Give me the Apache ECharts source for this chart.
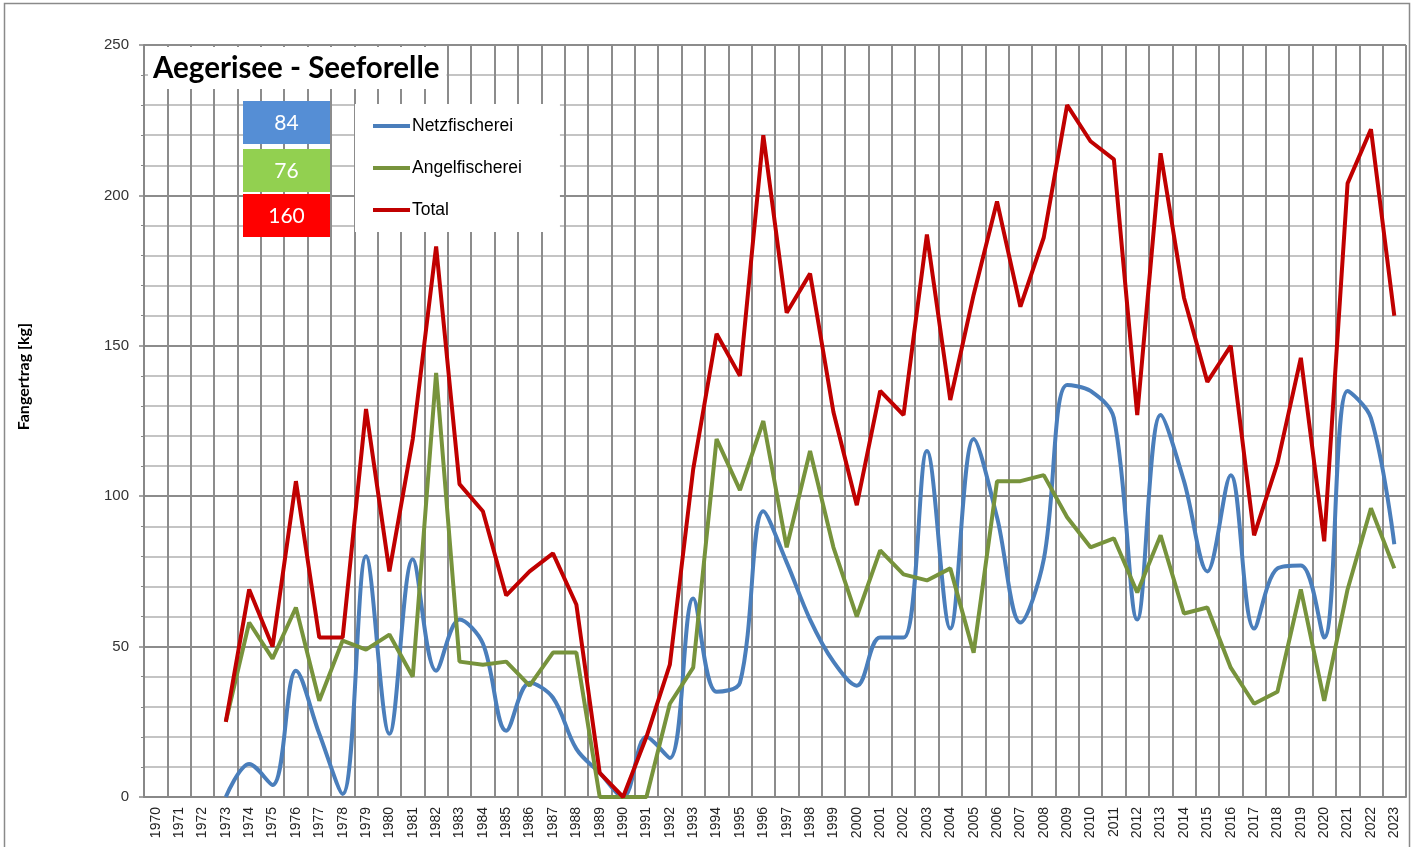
<!DOCTYPE html>
<html>
<head>
<meta charset="utf-8">
<script src="https://cdn.jsdelivr.net/npm/echarts@6/dist/echarts.min.js"></script>
<style>
	html, body { margin: 0; padding: 0; background: #fff; }
	#chart { width: 1413px; height: 847px; }
</style>
</head>
<body>
<div id="chart"></div>
<script>
var years = ['1970','1971','1972','1973','1974','1975','1976','1977','1978','1979',
	'1980','1981','1982','1983','1984','1985','1986','1987','1988','1989',
	'1990','1991','1992','1993','1994','1995','1996','1997','1998','1999',
	'2000','2001','2002','2003','2004','2005','2006','2007','2008','2009',
	'2010','2011','2012','2013','2014','2015','2016','2017','2018','2019',
	'2020','2021','2022','2023'];

var netzfischerei = [null, null, null, 0, 11, 4, 42, 21, 1,
	80, 21, 79, 42, 59, 51, 22, 38, 33, 16,
	8, 0, 20, 13, 66, 35, 38, 95, 78, 59,
	45, 37, 53, 53, 115, 56, 119, 93, 58, 79,
	137, 135, 126, 59, 127, 105, 75, 107, 56, 76,
	77, 53, 135, 126, 84];

var angelfischerei = [null, null, null, 25, 58, 46, 63, 32, 52,
	49, 54, 40, 141, 45, 44, 45, 37, 48, 48,
	0, 0, 0, 31, 43, 119, 102, 125, 83, 115,
	83, 60, 82, 74, 72, 76, 48, 105, 105, 107,
	93, 83, 86, 68, 87, 61, 63, 43, 31, 35,
	69, 32, 69, 96, 76];

var total = [null, null, null, 25, 69, 50, 105, 53, 53,
	129, 75, 119, 183, 104, 95, 67, 75, 81, 64,
	8, 0, 20, 44, 109, 154, 140, 220, 161, 174,
	128, 97, 135, 127, 187, 132, 167, 198, 163, 186,
	230, 218, 212, 127, 214, 166, 138, 150, 87, 111,
	146, 85, 204, 222, 160];

var chartDom = document.getElementById('chart');
var myChart = echarts.init(chartDom);
var option;

var last = function (arr) { return String(arr[arr.length - 1]); };

// the three coloured boxes with the latest values
var valueBox = function (y, fill, text) {
	return [
		{ type: 'rect', z: 100, shape: { x: 243, y: y, width: 87, height: 43 }, style: { fill: fill } },
		{
			type: 'text', z: 101, x: 286.5, y: y + 22,
			style: { text: text, fontFamily: 'Lato', fontSize: 21, fill: '#fff', align: 'center', verticalAlign: 'middle' }
		}
	];
};

option = {
	animation: false,
	title: {
		text: 'Aegerisee - Seeforelle',
		left: 148,
		top: 47,
		padding: [5, 7, 5, 5],
		backgroundColor: '#fff',
		textStyle: {
			fontFamily: 'Lato',
			fontWeight: 'bold',
			fontSize: 29.5,
			lineHeight: 32,
			color: '#000'
		}
	},
	legend: {
		orient: 'vertical',
		left: 355,
		top: 104,
		padding: [13, 38, 13, 18],
		backgroundColor: '#fff',
		icon: 'rect',
		itemWidth: 37,
		itemHeight: 4,
		itemGap: 24,
		textStyle: {
			fontFamily: 'Liberation Sans',
			fontSize: 17.5,
			color: '#000',
			padding: [0, 0, 0, -3]
		},
		data: ['Netzfischerei', 'Angelfischerei', 'Total']
	},
	grid: {
		left: 144,
		right: 7,
		top: 45,
		bottom: 50
	},
	xAxis: {
		type: 'category',
		data: years,
		boundaryGap: true,
		axisLine: { show: true, lineStyle: { color: '#888', width: 2 } },
		axisTick: { show: false },
		axisLabel: {
			interval: 0,
			rotate: 90,
			margin: 10,
			fontFamily: 'Liberation Sans',
			fontSize: 14,
			color: '#222'
		},
		splitLine: {
			show: true,
			interval: 0,
			lineStyle: { color: '#8c8c8c', width: 2 }
		}
	},
	yAxis: {
		type: 'value',
		min: 0,
		max: 250,
		interval: 50,
		axisLine: { show: true, lineStyle: { color: '#888', width: 2 } },
		axisTick: { show: true, length: 5, lineStyle: { color: '#888', width: 1.5 } },
		minorTick: { show: true, splitNumber: 5, length: 3, lineStyle: { color: '#888' } },
		axisLabel: {
			margin: 15,
			fontFamily: 'Liberation Sans',
			fontSize: 15,
			color: '#333'
		},
		splitLine: { show: true, lineStyle: { color: '#8c8c8c', width: 2 } },
		minorSplitLine: { show: true, lineStyle: { color: '#c4c4c4', width: 2 } }
	},
	graphic: [
		{
			type: 'rect',
			silent: true,
			z: 100,
			shape: { x: 4.5, y: 3.5, width: 1405, height: 900 },
			style: { fill: 'none', stroke: '#8a8a8a', lineWidth: 1.5 }
		},
		{
			type: 'text',
			z: 100,
			left: 16,
			top: 323,
			rotation: Math.PI / 2,
			style: {
				text: 'Fangertrag [kg]',
				fontFamily: 'Lato',
				fontWeight: 'bold',
				fontSize: 16,
				fill: '#000'
			}
		}
	].concat(
		valueBox(101, '#558ed5', last(netzfischerei)),
		valueBox(149, '#92d050', last(angelfischerei)),
		valueBox(194, '#ff0000', last(total))
	),
	series: [
		{
			name: 'Netzfischerei',
			type: 'line',
			data: netzfischerei,
			smooth: 0.35,
			symbol: 'none',
			lineStyle: { color: '#4a7ebb', width: 4 },
			itemStyle: { color: '#4a7ebb' }
		},
		{
			name: 'Angelfischerei',
			type: 'line',
			data: angelfischerei,
			symbol: 'none',
			lineStyle: { color: '#77933c', width: 4 },
			itemStyle: { color: '#77933c' }
		},
		{
			name: 'Total',
			type: 'line',
			data: total,
			symbol: 'none',
			lineStyle: { color: '#c00000', width: 4 },
			itemStyle: { color: '#c00000' }
		}
	]
};

option && myChart.setOption(option);
</script>
</body>
</html>
